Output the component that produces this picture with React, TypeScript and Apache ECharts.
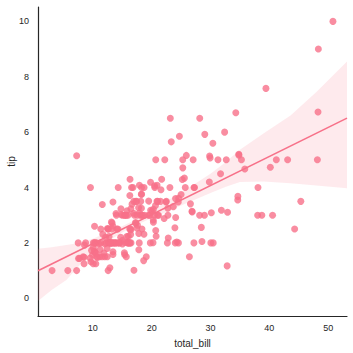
import React, { useEffect, useRef } from "react";
import * as echarts from "echarts";

const totalBill = [
  16.99, 10.34, 21.01, 23.68, 24.59, 25.29, 8.77, 26.88, 15.04, 14.78, 10.27, 35.26, 15.42, 18.43, 14.83, 21.58,
  10.33, 16.29, 16.97, 20.65, 17.92, 20.29, 15.77, 39.42, 19.82, 17.81, 13.37, 12.69, 21.7, 19.65, 9.55, 18.35,
  15.06, 20.69, 17.78, 24.06, 16.31, 16.93, 18.69, 31.27, 16.04, 17.46, 13.94, 9.68, 30.4, 18.29, 22.23, 32.4,
  28.55, 18.04, 12.54, 10.29, 34.81, 9.94, 25.56, 19.49, 38.01, 26.41, 11.24, 48.27, 20.29, 13.81, 11.02, 18.29,
  17.59, 20.08, 16.45, 3.07, 20.23, 15.01, 12.02, 17.07, 26.86, 25.28, 14.73, 10.51, 17.92, 27.2, 22.76, 17.29,
  19.44, 16.66, 10.07, 32.68, 15.98, 34.83, 13.03, 18.28, 24.71, 21.16, 28.97, 22.49, 5.75, 16.32, 22.75, 40.17,
  27.28, 12.03, 21.01, 12.46, 11.35, 15.38, 44.3, 22.42, 20.92, 15.36, 20.49, 25.21, 18.24, 14.31, 14.0, 7.25,
  38.07, 23.95, 25.71, 17.31, 29.93, 10.65, 12.43, 24.08, 11.69, 13.42, 14.26, 15.95, 12.48, 29.8, 8.52, 14.52,
  11.38, 22.82, 19.08, 20.27, 11.17, 12.26, 18.26, 8.51, 10.33, 14.15, 16.0, 13.16, 17.47, 34.3, 41.19, 27.05,
  16.43, 8.35, 18.64, 11.87, 9.78, 7.51, 14.07, 13.13, 17.26, 24.55, 19.77, 29.85, 48.17, 25.0, 13.39, 16.49,
  21.5, 12.66, 16.21, 13.81, 17.51, 24.52, 20.76, 31.71, 10.59, 10.63, 50.81, 15.81, 7.25, 31.85, 16.82, 32.9,
  17.89, 14.48, 9.6, 34.63, 34.65, 23.33, 45.35, 23.17, 40.55, 20.69, 20.9, 30.46, 18.15, 23.1, 15.69, 19.81,
  28.44, 15.48, 16.58, 7.56, 10.34, 43.11, 13.0, 13.51, 18.71, 12.74, 13.0, 16.4, 20.53, 16.47, 26.59, 38.73,
  24.27, 12.76, 30.06, 25.89, 48.33, 13.27, 28.17, 12.9, 28.15, 11.59, 7.74, 30.14, 12.16, 13.42, 8.58, 15.98,
  13.42, 16.27, 10.09, 20.45, 13.28, 22.12, 24.01, 15.69, 11.61, 10.77, 15.53, 10.07, 12.6, 32.83, 35.83, 29.03,
  27.18, 22.67, 17.82, 18.78,
];

const tip = [
  1.01, 1.66, 3.5, 3.31, 3.61, 4.71, 2.0, 3.12, 1.96, 3.23, 1.71, 5.0, 1.57, 3.0, 3.02, 3.92,
  1.67, 3.71, 3.5, 3.35, 4.08, 2.75, 2.23, 7.58, 3.18, 2.34, 2.0, 2.0, 4.3, 3.0, 1.45, 2.5,
  3.0, 2.45, 3.27, 3.6, 2.0, 3.07, 2.31, 5.0, 2.24, 2.54, 3.06, 1.32, 5.6, 3.0, 5.0, 6.0,
  2.05, 3.0, 2.5, 2.6, 5.2, 1.56, 4.34, 3.51, 3.0, 1.5, 1.76, 6.73, 3.21, 2.0, 1.98, 3.76,
  2.64, 3.15, 2.47, 1.0, 2.01, 2.09, 1.97, 3.0, 3.14, 5.0, 2.2, 1.25, 3.08, 4.0, 3.0, 2.71,
  3.0, 3.4, 1.83, 5.0, 2.03, 5.17, 2.0, 4.0, 5.85, 3.0, 3.0, 3.5, 1.0, 4.3, 3.25, 4.73,
  4.0, 1.5, 3.0, 1.5, 2.5, 3.0, 2.5, 3.48, 4.08, 1.64, 4.06, 4.29, 3.76, 4.0, 3.0, 1.0,
  4.0, 2.55, 4.0, 3.5, 5.07, 1.5, 1.8, 2.92, 2.31, 1.68, 2.5, 2.0, 2.52, 4.2, 1.48, 2.0,
  2.0, 2.18, 1.5, 2.83, 1.5, 2.0, 3.25, 1.25, 2.0, 2.0, 2.0, 2.75, 3.5, 6.7, 5.0, 5.0,
  2.3, 1.5, 1.36, 1.63, 1.73, 2.0, 2.5, 2.0, 2.74, 2.0, 2.0, 5.14, 5.0, 3.75, 2.61, 2.0,
  3.5, 2.5, 2.0, 2.0, 3.0, 3.48, 2.24, 4.5, 1.61, 2.0, 10.0, 3.16, 5.15, 3.18, 4.0, 3.11,
  2.0, 2.0, 4.0, 3.55, 3.68, 5.65, 3.5, 6.5, 3.0, 5.0, 3.5, 2.0, 3.5, 4.0, 1.5, 4.19,
  2.56, 2.02, 4.0, 1.44, 2.0, 5.0, 2.0, 2.0, 4.0, 2.01, 2.0, 2.5, 4.0, 3.23, 3.41, 3.0,
  2.03, 2.23, 2.0, 5.16, 9.0, 2.5, 6.5, 1.1, 3.0, 1.5, 1.44, 3.09, 2.2, 3.48, 1.92, 3.0,
  1.58, 2.5, 2.0, 3.0, 2.72, 2.88, 2.0, 3.0, 3.39, 1.47, 3.0, 1.25, 1.0, 1.17, 4.67, 5.92,
  2.0, 2.0, 1.75, 3.0,
];

// confidence band
const bandX = [0.68, 3, 5.5, 7.7, 10, 12.5, 15, 17.5, 20, 22.5, 25, 27.5, 30, 32.5, 35, 39, 43.6, 48, 53.2];
const bandLower = [-0.1, 0.3, 0.66, 1.18, 1.65, 2.05, 2.38, 2.66, 2.9, 3.12, 3.35, 3.58, 3.8, 4.02, 4.2, 4.22, 4.15, 4.07, 3.97];
const bandUpper = [1.79, 1.84, 1.92, 2.0, 2.15, 2.38, 2.6, 2.86, 3.14, 3.5, 3.82, 4.15, 4.5, 4.9, 5.36, 5.95, 6.6, 7.45, 8.55];

const xTicks = [10, 20, 30, 40, 50];
const yTicks = [0, 2, 4, 6, 8, 10];

const X_MIN = 0.68;
const X_MAX = 53.2;
const Y_MIN = -0.64;
const Y_MAX = 10.52;

const COLOR = "#f77189";
const TEXT = "#262626";
const FONT = "'Liberation Sans', Arial, sans-serif";

export default function App() {
  const ref = useRef<HTMLDivElement>(null);
  useEffect(() => {
    if (!ref.current) return;
    const chart = echarts.init(ref.current, undefined, { renderer: "svg" });
    const n = totalBill.length;
    const mx = totalBill.reduce((a, b) => a + b, 0) / n;
    const my = tip.reduce((a, b) => a + b, 0) / n;
    let sxy = 0;
    let sxx = 0;
    for (let i = 0; i < n; i++) {
      sxy += (totalBill[i] - mx) * (tip[i] - my);
      sxx += (totalBill[i] - mx) * (totalBill[i] - mx);
    }
    const slope = sxy / sxx;
    const intercept = my - slope * mx;
    const fit = [
      [X_MIN, intercept + slope * X_MIN],
      [X_MAX, intercept + slope * X_MAX],
    ];

    chart.setOption({
      animation: false,
      grid: {
        left: 38,
        top: 7,
        width: 309,
        height: 309,
        containLabel: false,
        outerBoundsMode: "none",
      },
      xAxis: {
        type: "value",
        min: X_MIN,
        max: X_MAX,
        name: "total_bill",
        nameLocation: "middle",
        nameGap: 22,
        nameTextStyle: { color: TEXT, fontSize: 10, fontFamily: FONT },
        axisLine: { show: true, onZero: false, lineStyle: { color: TEXT, width: 1.2 } },
        axisTick: { show: false },
        splitLine: { show: false },
        axisLabel: {
          color: TEXT,
          fontSize: 9,
          fontFamily: FONT,
          margin: 7,
          customValues: xTicks,
        },
      },
      yAxis: {
        type: "value",
        min: Y_MIN,
        max: Y_MAX,
        name: "tip",
        nameLocation: "middle",
        nameGap: 22,
        nameMoveOverlap: false,
        nameTextStyle: { color: TEXT, fontSize: 10, fontFamily: FONT },
        axisLine: { show: true, onZero: false, lineStyle: { color: TEXT, width: 1.2 } },
        axisTick: { show: false },
        splitLine: { show: false },
        axisLabel: {
          color: TEXT,
          fontSize: 9,
          fontFamily: FONT,
          margin: 9,
          customValues: yTicks,
        },
      },
      series: [
        {
          type: "scatter",
          data: totalBill.map((x, i) => [x, tip[i]]),
          symbolSize: 7,
          itemStyle: { color: COLOR, opacity: 0.8 },
          z: 2,
        },
        {
          type: "custom",
          z: 3,
          clip: true,
          data: bandX.map((x, i) => [x, bandLower[i], bandUpper[i]]),
          encode: { x: 0, y: [1, 2] },
          renderItem: (params: any, api: any) => {
            if (params.dataIndex !== 0) return null;
            const up = bandX.map((x, i) => api.coord([x, bandUpper[i]]));
            const lo = bandX.map((x, i) => api.coord([x, bandLower[i]])).reverse();
            return {
              type: "polygon",
              shape: { points: up.concat(lo) },
              style: { fill: "rgba(247,113,137,0.15)", stroke: "none" },
            };
          },
        },
        {
          type: "line",
          data: fit,
          showSymbol: false,
          lineStyle: { color: COLOR, width: 1.6 },
          z: 4,
        },
      ],
    });
    return () => chart.dispose();
  }, []);
  return (
    <div
      ref={ref}
      style={{ position: "fixed", left: 0, top: 0, width: 353, height: 353, background: "#fff" }}
    />
  );
}
